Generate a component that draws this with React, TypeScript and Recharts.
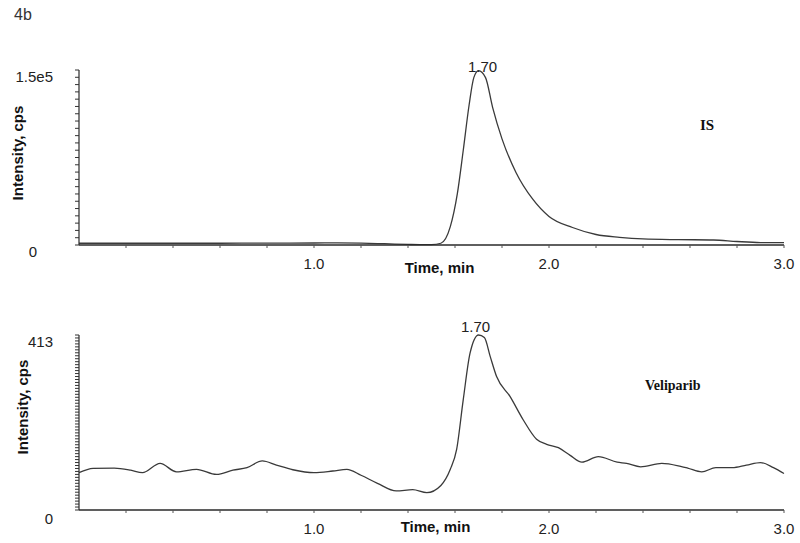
import React from 'react';
import { LineChart, Line, XAxis, YAxis, ReferenceDot } from 'recharts';

// IS trace (time in min, intensity in cps)
const isTime = [0, 0.2, 0.4, 0.6, 0.8, 1.0, 1.1, 1.2, 1.3, 1.4, 1.45, 1.5, 1.54, 1.58, 1.61, 1.635, 1.66, 1.68, 1.7, 1.73, 1.76, 1.8, 1.86, 1.93, 2.0, 2.1, 2.2, 2.3, 2.4, 2.55, 2.7, 2.8, 2.9, 3.0];
const isIntensity = [1500, 1500, 1500, 1500, 1600, 1700, 1800, 1600, 1100, 500, 300, 300, 1500, 15700, 44000, 81000, 120000, 143500, 149500, 143500, 118000, 91000, 62000, 39500, 24500, 15000, 9000, 6600, 5200, 4600, 4300, 3000, 2100, 2000];

// Veliparib trace
const velTime = [0, 0.06, 0.15, 0.22, 0.27, 0.345, 0.415, 0.5, 0.585, 0.655, 0.715, 0.78, 0.84, 0.91, 1.0, 1.08, 1.14, 1.2, 1.27, 1.35, 1.42, 1.48, 1.54, 1.58, 1.607, 1.635, 1.664, 1.7, 1.725, 1.75, 1.777, 1.834, 1.89, 1.947, 1.99, 2.04, 2.09, 2.14, 2.21, 2.29, 2.33, 2.39, 2.48, 2.56, 2.59, 2.65, 2.71, 2.78, 2.84, 2.9, 2.955, 3.0];
const velIntensity = [88, 98, 99, 94, 88, 110, 90, 96, 84, 94, 100, 116, 106, 95, 88, 92, 96, 82, 63, 45, 48, 41, 58, 96, 143, 260, 370, 413, 407, 362, 315, 268, 213, 167, 155, 147, 129, 113, 126, 113, 110, 102, 110, 103, 99, 90, 100, 100, 106, 112, 100, 86];

const peakTime = 1.7;
const peakLabel = '1.70';
const isMax = 150000;
const isMaxLabel = '1.5e5';
const velMax = 413;
const velMaxLabel = '413';

const xTicks = [0.2, 0.4, 0.6, 0.8, 1.0, 1.2, 1.4, 1.6, 1.8, 2.0, 2.2, 2.4, 2.6, 2.8, 3.0];
const isYTicks = Array.from({ length: 25 }, (_, i) => i * 6250);
const velYTicks = Array.from({ length: 60 }, (_, i) => i * 7);

const isRows = isTime.map((t, i) => ({ t, v: isIntensity[i] }));
const velRows = velTime.map((t, i) => ({ t, v: velIntensity[i] }));

const SANS = 'Liberation Sans, Arial, sans-serif';
const SERIF = 'Liberation Serif, Times New Roman, serif';
const AXIS = '#2a2a2a';
const LINE = '#3a3a3a';

const xFmt = (v: number) => (Math.abs(v - Math.round(v)) < 1e-6 ? v.toFixed(1) : '');

const makeYTick = (max: number, label: string, zeroDx: number, zeroDy: number) => (props: any) => {
  const { x, y, payload } = props;
  const v = payload.value;
  if (v !== 0 && v !== max) return <g />;
  return (
    <text
      x={x}
      y={y}
      dx={v === 0 ? zeroDx : 0}
      dy={v === 0 ? zeroDy : 6}
      textAnchor="end"
      dominantBaseline="central"
      fontFamily={SANS}
      fontSize={15}
      fill="#222"
    >
      {v === 0 ? '0' : label}
    </text>
  );
};

function Trace(props: {
  rows: { t: number; v: number }[];
  max: number;
  maxLabel: string;
  yTicks: number[];
  height: number;
  marginTop: number;
  marginBottom: number;
  zeroDx: number;
  zeroDy: number;
  titleOffset: number;
  titleDx: number;
  peakOffset: number;
  peakDx: number;
  peakValue: number;
}) {
  return (
    <LineChart
      width={800}
      height={props.height}
      data={props.rows}
      margin={{ top: props.marginTop, right: 16, bottom: props.marginBottom, left: 0 }}
    >
      <XAxis
        dataKey="t"
        type="number"
        domain={[0, 3]}
        ticks={xTicks}
        interval={0}
        tickFormatter={xFmt}
        tickSize={3}
        tickMargin={10}
        height={30}
        axisLine={{ stroke: AXIS, strokeWidth: 1.5 }}
        tickLine={{ stroke: '#555', strokeWidth: 1 }}
        tick={{ fontFamily: SANS, fontSize: 15, fill: '#222' }}
        label={{
          value: 'Time, min',
          position: 'insideBottom',
          offset: props.titleOffset,
          dx: props.titleDx,
          style: { fontFamily: SANS, fontSize: 15, fontWeight: 'bold', fill: '#111' },
        }}
      />
      <YAxis
        type="number"
        domain={[0, props.max]}
        ticks={props.yTicks}
        interval={0}
        width={79}
        tickSize={4}
        tickMargin={22}
        axisLine={{ stroke: AXIS, strokeWidth: 1.2 }}
        tickLine={{ stroke: '#333', strokeWidth: 1 }}
        tick={makeYTick(props.max, props.maxLabel, props.zeroDx, props.zeroDy)}
      />
      <Line
        type="monotone"
        dataKey="v"
        stroke={LINE}
        strokeWidth={1.3}
        dot={false}
        activeDot={false}
        isAnimationActive={false}
      />
      <ReferenceDot
        x={peakTime}
        y={props.peakValue}
        r={0}
        fill="none"
        stroke="none"
        label={{
          value: peakLabel,
          position: 'top',
          offset: props.peakOffset,
          dx: props.peakDx,
          style: { fontFamily: SANS, fontSize: 15, fill: '#222' },
        }}
      />
    </LineChart>
  );
}

export default function App() {
  return (
    <div style={{ position: 'absolute', left: 0, top: 0, width: 800, height: 543, background: '#fff', overflow: 'hidden' }}>
      <div style={{ position: 'absolute', left: 0, top: 0 }}>
        <Trace
          rows={isRows}
          max={isMax}
          maxLabel={isMaxLabel}
          yTicks={isYTicks}
          height={280}
          marginTop={70}
          marginBottom={5}
          zeroDx={-16}
          zeroDy={6}
          titleOffset={2.5}
          titleDx={8}
          peakOffset={-1}
          peakDx={4}
          peakValue={149500}
        />
      </div>
      <div style={{ position: 'absolute', left: 0, top: 280 }}>
        <Trace
          rows={velRows}
          max={velMax}
          maxLabel={velMaxLabel}
          yTicks={velYTicks}
          height={263}
          marginTop={55}
          marginBottom={3}
          zeroDx={0}
          zeroDy={8}
          titleOffset={8}
          titleDx={4}
          peakOffset={3}
          peakDx={-3}
          peakValue={413}
        />
      </div>
      <svg width={800} height={543} style={{ position: 'absolute', left: 0, top: 0, pointerEvents: 'none' }}>
        <text x={14} y={20} fontFamily={SANS} fontSize={16} fill="#333">4b</text>
        <text
          x={17}
          y={153}
          transform="rotate(-90 17 153)"
          textAnchor="middle"
          dominantBaseline="central"
          fontFamily={SANS}
          fontSize={15}
          fontWeight="bold"
          fill="#111"
        >
          Intensity, cps
        </text>
        <text
          x={22}
          y={407}
          transform="rotate(-90 22 407)"
          textAnchor="middle"
          dominantBaseline="central"
          fontFamily={SANS}
          fontSize={15}
          fontWeight="bold"
          fill="#111"
        >
          Intensity, cps
        </text>
        <text x={700} y={130} fontFamily={SERIF} fontSize={15} fontWeight="bold" fill="#111">IS</text>
        <text x={645} y={390} fontFamily={SERIF} fontSize={14} fontWeight="bold" fill="#111">Veliparib</text>
      </svg>
    </div>
  );
}
